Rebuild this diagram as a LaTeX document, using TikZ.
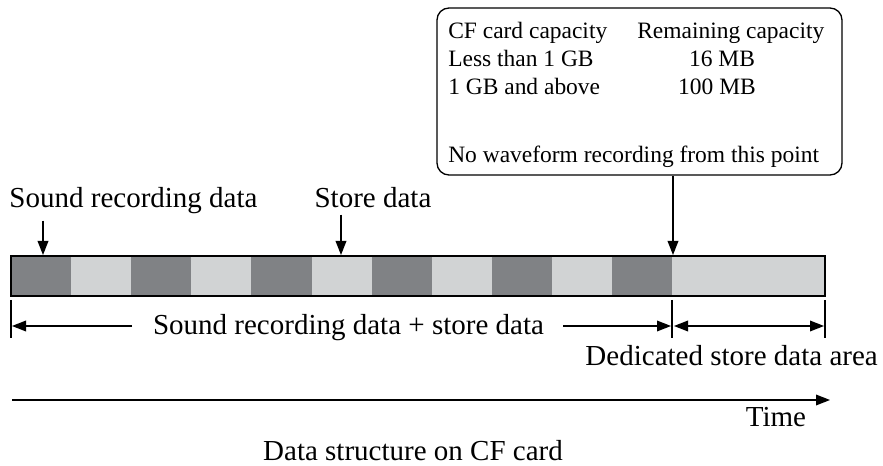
\documentclass[tikz,border=0pt]{standalone}
\usepackage{fontspec}
\setmainfont{Liberation Serif}
\usetikzlibrary{arrows.meta}
\definecolor{segdark}{HTML}{808285}
\definecolor{seglight}{HTML}{D1D3D4}
\tikzset{
  big/.style={font=\fontsize{21.75}{26}\selectfont, inner sep=0pt},
  small/.style={font=\fontsize{17.6}{21}\selectfont, inner sep=0pt},
  arr/.style={line width=1pt, -{Triangle[length=10.5pt,width=8pt]}},
  darr/.style={line width=1pt, {Triangle[length=10.5pt,width=8pt]}-{Triangle[length=10.5pt,width=8pt]}},
  tick/.style={line width=1pt},
  callout/.style={draw, line width=1pt, rounded corners=9pt, minimum width=303.75pt, minimum height=125.25pt, inner sep=0pt},
}
\begin{document}
\begin{tikzpicture}[x=0.75pt, y=-0.75pt]
\useasboundingbox (0,0) rectangle (883,466);
% bar segments
\foreach \i in {0,...,10}{
  \pgfmathsetmacro{\xa}{11+60.1*\i}
  \pgfmathsetmacro{\xb}{11+60.1*(\i+1)}
  \pgfmathparse{mod(\i,2)==0 ? "segdark" : "seglight"}
  \fill[\pgfmathresult] (\xa,256) rectangle (\xb,296);
}
\fill[seglight] (672,256) rectangle (825,296);
\node[draw, line width=1.5pt, minimum width=610.5pt, minimum height=30pt, inner sep=0pt] (bar) at (418,276) {};
% labels above
\node[big, anchor=base] (srl) at (133.5,208) {Sound recording data};
\node[big, anchor=base] (stl) at (373,208) {Store data};
\coordinate (srt) at (43,255);
\coordinate (stt) at (341,255);
\draw[arr] (srl.south -| srt) ++(0,6) -- (srt);
\draw[arr] (stl.south -| stt) ++(0,6) -- (stt);
% callout box
\node[callout] (box) at (639.5,91.5) {};
\node[small, anchor=base west] (h1) at (448,39) {CF card capacity};
\node[small, anchor=base west] (h2) at (637,39) {Remaining capacity};
\node[small, anchor=base west] (r1) at (448,67) {Less than 1 GB};
\node[small, anchor=base] (v1) at (722,67) {16 MB};
\node[small, anchor=base west] (r2) at (448,95) {1 GB and above};
\node[small, anchor=base] (v2) at (717,95) {100 MB};
\node[small, anchor=base west] (nw) at (448,163) {No waveform recording from this point};
\coordinate (endpt) at (673,255);
\draw[arr] (box.south -| endpt) -- (endpt);
% dimension lines
\coordinate (t1) at (11,300);
\coordinate (t2) at (672,300);
\coordinate (t3) at (825,300);
\coordinate (b1) at (11,338);
\coordinate (b2) at (672,338);
\coordinate (b3) at (825,338);
\draw[tick] (t1) -- (b1);
\draw[tick] (t2) -- (b2);
\draw[tick] (t3) -- (b3);
\coordinate (d1) at (12,326);
\coordinate (d2) at (671,326);
\coordinate (d3) at (674,326);
\coordinate (d4) at (824,326);
\node[big, anchor=base] (sum) at (348.5,335) {Sound recording data + store data};
\coordinate (la) at (132,326);
\coordinate (ra) at (563,326);
\draw[arr] (la) -- (d1);
\draw[arr] (ra) -- (d2);
\draw[darr] (d3) -- (d4);
\node[big, anchor=base east] (ded) at (878,366) {Dedicated store data area};
% time axis
\coordinate (ts) at (12,400);
\coordinate (te) at (830,400);
\draw[arr] (ts) -- (te);
\node[big, anchor=base] (time) at (776,427) {Time};
\node[big, anchor=base] (cap) at (413,461) {Data structure on CF card};
\end{tikzpicture}
\end{document}
